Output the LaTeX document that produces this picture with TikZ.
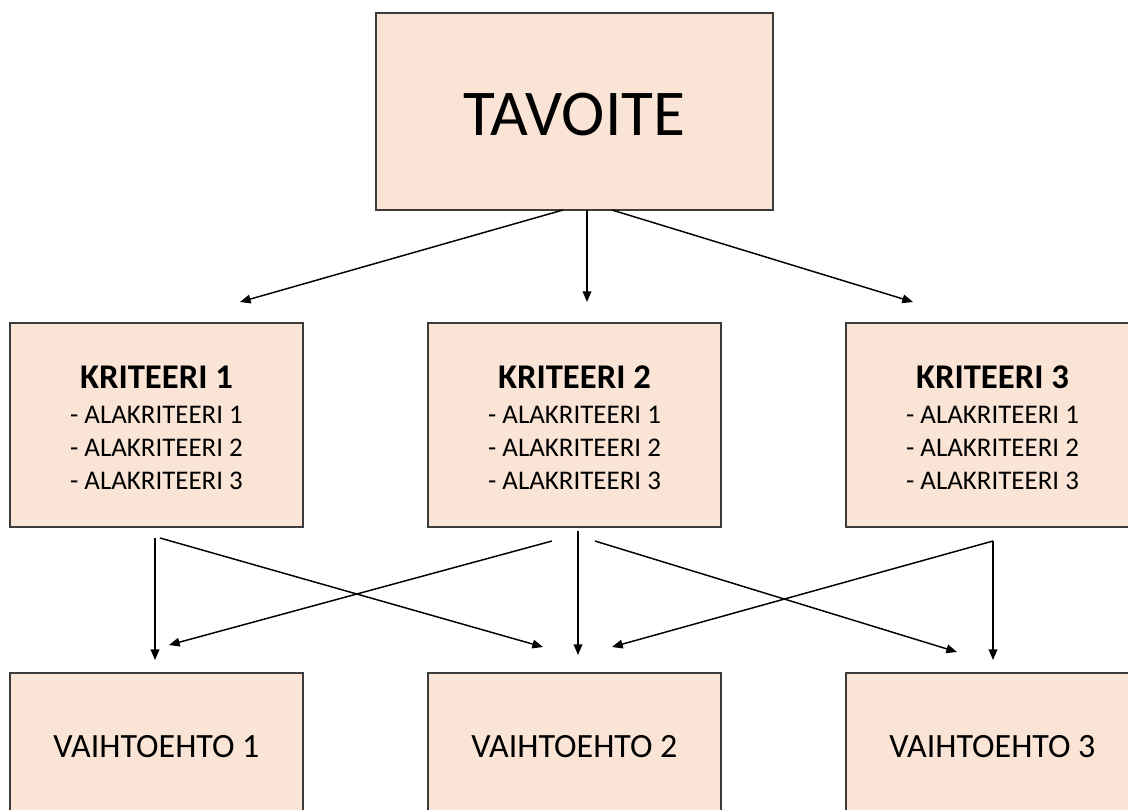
\documentclass[tikz,border=0pt]{standalone}
\usepackage{fontspec}
\setmainfont{Carlito}
\usetikzlibrary{arrows.meta}
\definecolor{peach}{RGB}{250,228,214}
\definecolor{edge}{RGB}{60,60,60}
\begin{document}
\begin{tikzpicture}[x=0.75pt,y=-0.75pt,
  box/.style={draw=edge,line width=1.1pt,fill=peach,inner sep=0pt,minimum width=219.75pt,minimum height=153pt,align=center},
  krbox/.style={box,font=\fontsize{20.2}{25}\selectfont},
  goal/.style={box,minimum width=297.75pt,minimum height=147.75pt,font=\fontsize{49}{58}\selectfont},
  alt/.style={box,minimum height=111pt,font=\fontsize{25.5}{30}\selectfont},
  arr/.style={line width=1.1pt,black,-{Triangle[length=8pt,width=6.5pt]}}]
\useasboundingbox (0,0) rectangle (1128,810);
\clip (0,0) rectangle (1128,810);
\fill[white] (0,0) rectangle (1128,810);
\node[goal] (goal) at (574.5,111.5) {\rule{0pt}{36.8pt}TAVOITE};
\newcommand\krit[1]{{\fontsize{26}{31}\selectfont\bfseries\rule{0pt}{21.2pt}KRITEERI #1}\\[1pt]
 - ALAKRITEERI 1\\ - ALAKRITEERI 2\\ - ALAKRITEERI 3}
\node[krbox] (k1) at (156.5,425) {\krit{1}};
\node[krbox] (k2) at (574.5,425) {\krit{2}};
\node[krbox] (k3) at (992.5,425) {\krit{3}};
\node[alt] (v1) at (156.5,747) {VAIHTOEHTO 1};
\node[alt] (v2) at (574.5,747) {VAIHTOEHTO 2};
\node[alt] (v3) at (992.5,747) {VAIHTOEHTO 3};
% arrow ends
\coordinate (g1) at (563,210); \coordinate (g2) at (587,210); \coordinate (g3) at (612,210);
\coordinate (t1) at (240,302); \coordinate (t2) at (587,302); \coordinate (t3) at (913,302);
\draw[arr] (g1) -- (t1);
\draw[arr] (g2) -- (t2);
\draw[arr] (g3) -- (t3);
\coordinate (a1) at (155,538); \coordinate (a2) at (160,538);
\coordinate (b1) at (552,541); \coordinate (b2) at (578,531); \coordinate (b3) at (595,541);
\coordinate (c1) at (993,541); \coordinate (c2) at (993,541);
\coordinate (e11) at (155,660); \coordinate (e12) at (543,647);
\coordinate (e21) at (169,645); \coordinate (e22) at (578,655); \coordinate (e23) at (957,652);
\coordinate (e32) at (612,647); \coordinate (e33) at (993,660);
\draw[arr] (a1) -- (e11);
\draw[arr] (a2) -- (e12);
\draw[arr] (b1) -- (e21);
\draw[arr] (b2) -- (e22);
\draw[arr] (b3) -- (e23);
\draw[arr] (c1) -- (e32);
\draw[arr] (c2) -- (e33);
\end{tikzpicture}
\end{document}
